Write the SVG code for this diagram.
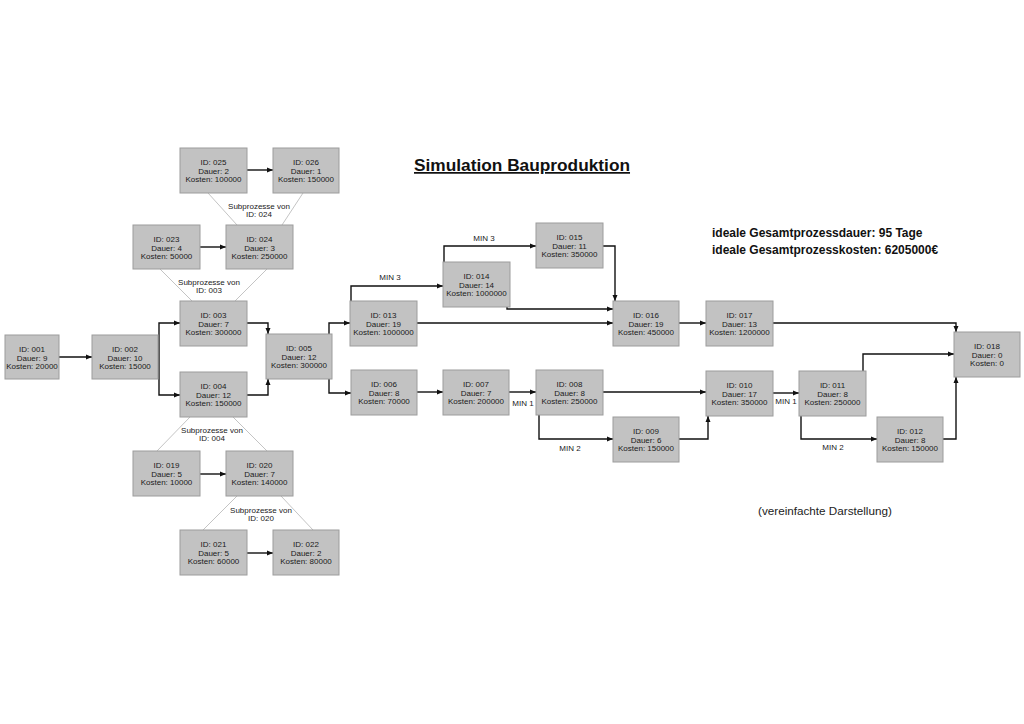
<svg xmlns="http://www.w3.org/2000/svg" width="1024" height="724" viewBox="0 0 1024 724">
<style>
.n rect{fill:#c2c2c2;stroke:#9c9c9c;stroke-width:1}
.n text{font-family:"Liberation Sans",Arial,sans-serif;font-size:8px;fill:#1a1a1a;text-anchor:middle}
.c path{fill:none;stroke:#111;stroke-width:1.4;marker-end:url(#ah)}
.s line{stroke:#aaa;stroke-width:0.7}
.lbl{font-family:"Liberation Sans",Arial,sans-serif;font-size:8px;fill:#1a1a1a;text-anchor:middle}
.big{font-family:"Liberation Sans",Arial,sans-serif;font-weight:bold;fill:#111}
</style>
<defs>
<marker id="ah" markerWidth="6" markerHeight="6" refX="6" refY="3" orient="auto" markerUnits="userSpaceOnUse">
<path d="M0,0.5 L6,3 L0,5.5 Z" fill="#111"/>
</marker>
</defs>
<rect width="1024" height="724" fill="#fff"/>

<text class="big" x="414" y="171" font-size="17.3" text-decoration="underline">Simulation Bauproduktion</text>
<text class="big" x="712" y="237" font-size="12">ideale Gesamtprozessdauer: 95 Tage</text>
<text class="big" x="712" y="254" font-size="12">ideale Gesamtprozesskosten: 6205000€</text>
<text x="758" y="515" font-family="Liberation Sans,Arial,sans-serif" font-size="11.7" fill="#222">(vereinfachte Darstellung)</text>

<g class="s" id="sublines">
<line x1="208" y1="193" x2="237" y2="225"/><line x1="303" y1="193" x2="282" y2="225"/>
<line x1="160" y1="269" x2="192" y2="301"/><line x1="267" y1="269" x2="235" y2="301"/>
<line x1="190" y1="417" x2="157" y2="451"/><line x1="233" y1="417" x2="267" y2="451"/>
<line x1="237" y1="496" x2="203" y2="530"/><line x1="281" y1="496" x2="313" y2="530"/>
</g>
<g id="sublabels">
<text class="lbl" x="259" y="209">Subprozesse von</text><text class="lbl" x="259" y="217">ID: 024</text>
<text class="lbl" x="209" y="285">Subprozesse von</text><text class="lbl" x="209" y="293">ID: 003</text>
<text class="lbl" x="212" y="433">Subprozesse von</text><text class="lbl" x="212" y="441">ID: 004</text>
<text class="lbl" x="261" y="513">Subprozesse von</text><text class="lbl" x="261" y="521">ID: 020</text>
</g>

<g class="c" id="connectors">
<path d="M58,357 H92"/>
<path d="M159,357 V323 H180"/>
<path d="M159,357 V395 H180"/>
<path d="M247,323 H268 V334"/>
<path d="M247,395 H268 V379"/>
<path d="M329,334 V323 H350"/>
<path d="M329,379 V393 H351"/>
<path d="M351,301 V286 H443"/>
<path d="M444,262 V246 H536"/>
<path d="M507,307 V309 H613"/>
<path d="M603,246 H615 V301"/>
<path d="M417,323 H613"/>
<path d="M679,323 H706"/>
<path d="M773,323 H956 V332"/>
<path d="M417,392 H443"/>
<path d="M509,392 H536"/>
<path d="M603,392 H706"/>
<path d="M539,415 V439 H613"/>
<path d="M679,439 H708 V416"/>
<path d="M773,393 H799"/>
<path d="M801,416 V439 H877"/>
<path d="M863,371 V354 H954"/>
<path d="M943,439 H956 V377"/>
<path d="M247,170 H273"/>
<path d="M200,247 H226"/>
<path d="M200,474 H226"/>
<path d="M247,553 H273"/>
</g>
<g id="connlabels">
<text class="lbl" x="390" y="280">MIN 3</text>
<text class="lbl" x="484" y="241">MIN 3</text>
<text class="lbl" x="523" y="406">MIN 1</text>
<text class="lbl" x="570" y="451">MIN 2</text>
<text class="lbl" x="786" y="404">MIN 1</text>
<text class="lbl" x="833" y="450">MIN 2</text>
</g>

<g class="n" id="n001"><rect x="5" y="335" width="54" height="44"/><text x="32" y="352">ID: 001<tspan x="32" dy="8.5">Dauer: 9</tspan><tspan x="32" dy="8.5">Kosten: 20000</tspan></text></g>
<g class="n" id="n002"><rect x="92" y="335" width="66" height="44"/><text x="125" y="352">ID: 002<tspan x="125" dy="8.5">Dauer: 10</tspan><tspan x="125" dy="8.5">Kosten: 15000</tspan></text></g>
<g class="n" id="n003"><rect x="180" y="301" width="67" height="45"/><text x="213.5" y="318">ID: 003<tspan x="213.5" dy="8.5">Dauer: 7</tspan><tspan x="213.5" dy="8.5">Kosten: 300000</tspan></text></g>
<g class="n" id="n004"><rect x="180" y="372" width="67" height="45"/><text x="213.5" y="389">ID: 004<tspan x="213.5" dy="8.5">Dauer: 12</tspan><tspan x="213.5" dy="8.5">Kosten: 150000</tspan></text></g>
<g class="n" id="n005"><rect x="266" y="334" width="66" height="45"/><text x="299" y="351">ID: 005<tspan x="299" dy="8.5">Dauer: 12</tspan><tspan x="299" dy="8.5">Kosten: 300000</tspan></text></g>
<g class="n" id="n006"><rect x="351" y="370" width="66" height="45"/><text x="384" y="387">ID: 006<tspan x="384" dy="8.5">Dauer: 8</tspan><tspan x="384" dy="8.5">Kosten: 70000</tspan></text></g>
<g class="n" id="n007"><rect x="443" y="370" width="66" height="45"/><text x="476" y="387">ID: 007<tspan x="476" dy="8.5">Dauer: 7</tspan><tspan x="476" dy="8.5">Kosten: 200000</tspan></text></g>
<g class="n" id="n008"><rect x="536" y="370" width="67" height="45"/><text x="569.5" y="387">ID: 008<tspan x="569.5" dy="8.5">Dauer: 8</tspan><tspan x="569.5" dy="8.5">Kosten: 250000</tspan></text></g>
<g class="n" id="n009"><rect x="613" y="417" width="66" height="45"/><text x="646" y="434">ID: 009<tspan x="646" dy="8.5">Dauer: 6</tspan><tspan x="646" dy="8.5">Kosten: 150000</tspan></text></g>
<g class="n" id="n010"><rect x="706" y="371" width="67" height="45"/><text x="739.5" y="388">ID: 010<tspan x="739.5" dy="8.5">Dauer: 17</tspan><tspan x="739.5" dy="8.5">Kosten: 350000</tspan></text></g>
<g class="n" id="n011"><rect x="799" y="371" width="67" height="45"/><text x="832.5" y="388">ID: 011<tspan x="832.5" dy="8.5">Dauer: 8</tspan><tspan x="832.5" dy="8.5">Kosten: 250000</tspan></text></g>
<g class="n" id="n012"><rect x="877" y="417" width="66" height="45"/><text x="910" y="434">ID: 012<tspan x="910" dy="8.5">Dauer: 8</tspan><tspan x="910" dy="8.5">Kosten: 150000</tspan></text></g>
<g class="n" id="n013"><rect x="350" y="301" width="67" height="45"/><text x="383.5" y="318">ID: 013<tspan x="383.5" dy="8.5">Dauer: 19</tspan><tspan x="383.5" dy="8.5">Kosten: 1000000</tspan></text></g>
<g class="n" id="n014"><rect x="443" y="262" width="67" height="45"/><text x="476.5" y="279">ID: 014<tspan x="476.5" dy="8.5">Dauer: 14</tspan><tspan x="476.5" dy="8.5">Kosten: 1000000</tspan></text></g>
<g class="n" id="n015"><rect x="536" y="223" width="67" height="45"/><text x="569.5" y="240">ID: 015<tspan x="569.5" dy="8.5">Dauer: 11</tspan><tspan x="569.5" dy="8.5">Kosten: 350000</tspan></text></g>
<g class="n" id="n016"><rect x="613" y="301" width="66" height="45"/><text x="646" y="318">ID: 016<tspan x="646" dy="8.5">Dauer: 19</tspan><tspan x="646" dy="8.5">Kosten: 450000</tspan></text></g>
<g class="n" id="n017"><rect x="706" y="301" width="67" height="45"/><text x="739.5" y="318">ID: 017<tspan x="739.5" dy="8.5">Dauer: 13</tspan><tspan x="739.5" dy="8.5">Kosten: 1200000</tspan></text></g>
<g class="n" id="n018"><rect x="954" y="332" width="66" height="45"/><text x="987" y="349">ID: 018<tspan x="987" dy="8.5">Dauer: 0</tspan><tspan x="987" dy="8.5">Kosten: 0</tspan></text></g>
<g class="n" id="n019"><rect x="133" y="451" width="67" height="45"/><text x="166.5" y="468">ID: 019<tspan x="166.5" dy="8.5">Dauer: 5</tspan><tspan x="166.5" dy="8.5">Kosten: 10000</tspan></text></g>
<g class="n" id="n020"><rect x="226" y="451" width="67" height="45"/><text x="259.5" y="468">ID: 020<tspan x="259.5" dy="8.5">Dauer: 7</tspan><tspan x="259.5" dy="8.5">Kosten: 140000</tspan></text></g>
<g class="n" id="n021"><rect x="180" y="530" width="67" height="45"/><text x="213.5" y="547">ID: 021<tspan x="213.5" dy="8.5">Dauer: 5</tspan><tspan x="213.5" dy="8.5">Kosten: 60000</tspan></text></g>
<g class="n" id="n022"><rect x="273" y="530" width="66" height="45"/><text x="306" y="547">ID: 022<tspan x="306" dy="8.5">Dauer: 2</tspan><tspan x="306" dy="8.5">Kosten: 80000</tspan></text></g>
<g class="n" id="n023"><rect x="133" y="225" width="67" height="44"/><text x="166.5" y="242">ID: 023<tspan x="166.5" dy="8.5">Dauer: 4</tspan><tspan x="166.5" dy="8.5">Kosten: 50000</tspan></text></g>
<g class="n" id="n024"><rect x="226" y="225" width="67" height="44"/><text x="259.5" y="242">ID: 024<tspan x="259.5" dy="8.5">Dauer: 3</tspan><tspan x="259.5" dy="8.5">Kosten: 250000</tspan></text></g>
<g class="n" id="n025"><rect x="180" y="148" width="67" height="45"/><text x="213.5" y="165">ID: 025<tspan x="213.5" dy="8.5">Dauer: 2</tspan><tspan x="213.5" dy="8.5">Kosten: 100000</tspan></text></g>
<g class="n" id="n026"><rect x="273" y="148" width="66" height="45"/><text x="306" y="165">ID: 026<tspan x="306" dy="8.5">Dauer: 1</tspan><tspan x="306" dy="8.5">Kosten: 150000</tspan></text></g>
</svg>
